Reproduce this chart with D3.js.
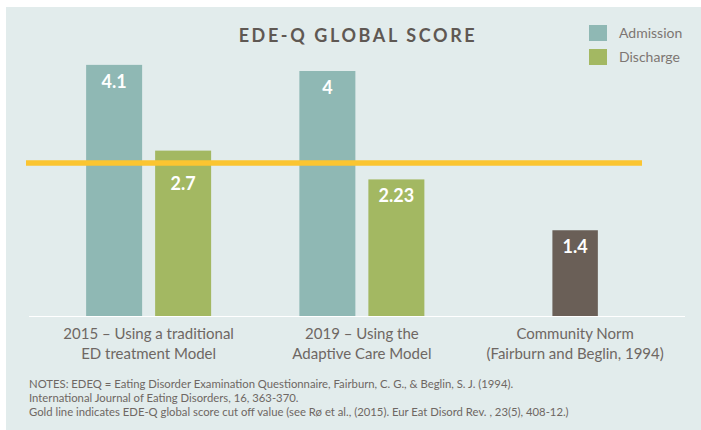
<!DOCTYPE html>
<html>
<head>
<meta charset="utf-8">
<script src="https://cdn.jsdelivr.net/npm/d3@7"></script>
<style>
  html, body { margin: 0; padding: 0; background: #ffffff; }
  svg { display: block; }
</style>
</head>
<body>
<div id="chart"></div>
<script>
// ---- Data ----
const categories = ["2015 \u2013 Using a traditional\nED treatment Model", "2019 \u2013 Using the\nAdaptive Care Model", "Community Norm\n(Fairburn and Beglin, 1994)"];
const seriesNames = ["Admission", "Discharge"];
const admission = [4.1, 4.0, null];
const discharge = [2.7, 2.23, null];
const community = [null, null, 1.4];
const valueLabels = [["4.1", "2.7"], ["4", "2.23"], ["1.4"]];
const cutoff = 2.5;
const title = "EDE-Q GLOBAL SCORE";
const notes = [
  "NOTES: EDEQ = Eating Disorder Examination Questionnaire, Fairburn, C. G., & Beglin, S. J. (1994).",
  "International Journal of Eating Disorders, 16, 363-370.",
  "Gold line indicates EDE-Q global score cut off value (see R\u00f8 et al., (2015). Eur Eat Disord Rev. , 23(5), 408-12.)"
];

// ---- Layout ----
const W = 701, H = 430;
const colors = { Admission: "#8fb8b4", Discharge: "#a3b862", Community: "#6a5f57" };
const font = "Lato, 'Open Sans', sans-serif";

const svg = d3.select("#chart").append("svg").attr("width", W).attr("height", H);

svg.append("rect").attr("x", 6).attr("y", 7).attr("width", W - 6).attr("height", H - 7).attr("fill", "#e2ecec");

const baseY = 316;
const y = d3.scaleLinear().domain([0, 5]).range([baseY, baseY - 5 * 61.25]);

const x = d3.scaleBand().domain(d3.range(categories.length)).range([42, 681.75]).paddingInner(0).paddingOuter(0);
const barW = 56, gap = 13;

// Build bar records
const bars = [];
categories.forEach((c, i) => {
  const vals = [];
  if (admission[i] != null) vals.push({ s: "Admission", v: admission[i] });
  if (discharge[i] != null) vals.push({ s: "Discharge", v: discharge[i] });
  if (community[i] != null) vals.push({ s: "Community", v: community[i] });
  const n = vals.length;
  const total = n * barW + (n - 1) * gap;
  const cx = x(i) + x.bandwidth() / 2;
  const inner = d3.scaleBand().domain(d3.range(n)).range([cx - total / 2, cx + total / 2]).paddingInner(gap / (barW + gap));
  vals.forEach((d, j) => bars.push({ ...d, x: inner(j), w: inner.bandwidth(), label: valueLabels[i][j] }));
});

// Baseline
svg.append("line").attr("x1", 29).attr("x2", 685).attr("y1", baseY + 0.5).attr("y2", baseY + 0.5)
  .attr("stroke", "#ffffff").attr("stroke-width", 1.2);

svg.append("g").selectAll("rect").data(bars).join("rect")
  .attr("x", d => d.x).attr("width", d => d.w)
  .attr("y", d => y(d.v)).attr("height", d => y(0) - y(d.v))
  .attr("fill", d => colors[d.s]);

// Cutoff line
svg.append("line").attr("x1", 26).attr("x2", 642).attr("y1", y(cutoff)).attr("y2", y(cutoff))
  .attr("stroke", "#fbc531").attr("stroke-width", 5.5);

// Value labels (shifted below the cutoff line when they would overlap it)
svg.append("g").selectAll("text").data(bars).join("text")
  .attr("x", d => d.x + d.w / 2)
  .attr("y", d => {
    const yy = y(d.v) + 23;
    return (yy > y(cutoff) - 4 && y(d.v) < y(cutoff) + 4) ? Math.max(yy, y(cutoff) + 27) : yy;
  })
  .attr("text-anchor", "middle").attr("fill", "#ffffff")
  .style("font-family", font).style("font-weight", 700).style("font-size", "18px")
  .text(d => d.label);

// Title
svg.append("text").attr("x", 358).attr("y", 42).attr("text-anchor", "middle")
  .attr("fill", "#5f5853").style("font-family", font).style("font-weight", 700)
  .style("font-size", "18px").style("letter-spacing", "2.6px").text(title);

// Legend
const leg = svg.append("g").selectAll("g").data(seriesNames).join("g")
  .attr("transform", (d, i) => `translate(589, ${25 + i * 24})`);
leg.append("rect").attr("width", 18).attr("height", 16).attr("fill", d => colors[d]);
leg.append("text").attr("x", 30).attr("y", 13).attr("fill", "#7d7672")
  .style("font-family", font).style("font-size", "14px").text(d => d);

// Category labels
const cl = svg.append("g").selectAll("text").data(categories).join("text")
  .attr("x", (d, i) => x(i) + x.bandwidth() / 2)
  .attr("text-anchor", "middle").attr("fill", "#6e6763")
  .style("font-family", font).style("font-size", "15px");
cl.selectAll("tspan").data(d => d.split("\n")).join("tspan")
  .attr("x", function() { return d3.select(this.parentNode).attr("x"); })
  .attr("y", (d, i) => 339 + i * 19.5).text(d => d);

// Notes
svg.append("g").selectAll("text").data(notes).join("text")
  .attr("x", 29).attr("y", (d, i) => 388 + i * 14)
  .attr("fill", "#6e6763").style("font-family", font).style("font-size", "11.3px")
  .text(d => d);
</script>
</body>
</html>
